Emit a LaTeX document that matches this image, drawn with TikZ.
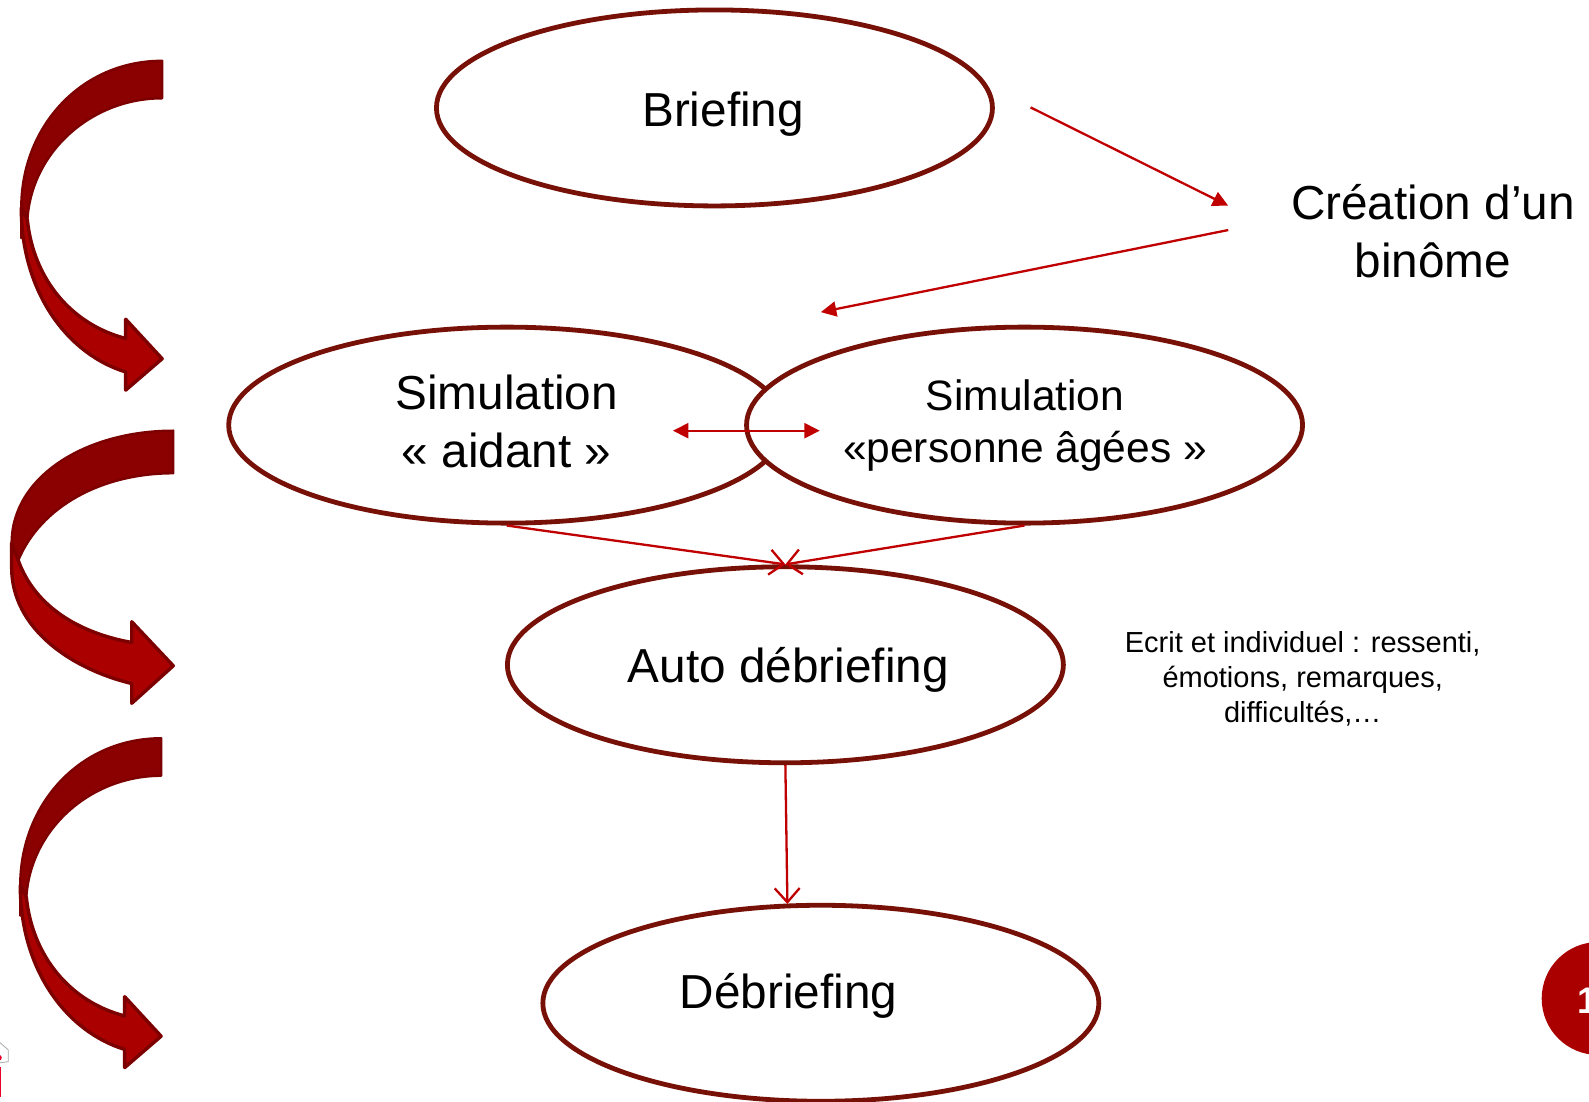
\documentclass[tikz,border=0pt]{standalone}
\usepackage{fontspec}
\setmainfont{Liberation Sans}
\usetikzlibrary{arrows.meta,shapes.geometric}
\definecolor{ringc}{HTML}{771108}
\definecolor{linkc}{HTML}{C00000}
\definecolor{banddark}{HTML}{8B0000}
\definecolor{bandedge}{HTML}{7D0000}
\definecolor{bandfill}{HTML}{AA0000}
\definecolor{greyedge}{HTML}{A8A8A8}
\definecolor{logored}{HTML}{E8002A}
\tikzset{
  stage/.style={ellipse,draw=ringc,line width=4.8pt,fill=white,minimum width=556pt,minimum height=196pt,inner sep=0pt},
  stagetext/.style={align=center,inner sep=0pt,font=\fontsize{47.7}{58}\selectfont},
  link/.style={draw=linkc,line width=2.3pt},
  solidhead/.style={-{Triangle[length=15.5pt,width=15pt]}},
  bothheads/.style={{Triangle[length=15.5pt,width=15pt]}-{Triangle[length=15.5pt,width=15pt]}},
  openhead/.style={-{Straight Barb[length=14pt,width=25pt,line width=2.3pt]}},
  bandtop/.style={fill=banddark,draw=bandedge,line width=2.4pt,line join=round},
  bandlow/.style={fill=bandfill,draw=bandedge,line width=3.4pt,line join=round},
}
\newcommand{\curvearrow}{%
  \path[bandtop] (160,60) .. controls (80,60) and (21,125) .. (21,205) -- (21,235) -- (27,217)
     .. controls (31,150) and (90,97) .. (160,97) -- cycle;
  \path[bandlow] (21,205) .. controls (21,290) and (68,350) .. (124,367) -- (124,385) -- (160,354) -- (124,315) -- (124,334)
     .. controls (70,320) and (33,275) .. (27,217) -- cycle;
}
\begin{document}
\begin{tikzpicture}[x=1.0134pt,y=-1.0134pt]
\useasboundingbox (0,0) rectangle (1568,1087.4);
\fill[white] (0,0) rectangle (1568,1087.4);
% side arrows
\curvearrow
\path[bandtop] (171,425) .. controls (85,425) and (11.5,470) .. (11.5,536) -- (11.5,565) -- (18,553)
   .. controls (40,500) and (100,467) .. (171,467) -- cycle;
\path[bandlow] (11.5,536) -- (11.5,560) .. controls (11.5,620) and (70,660) .. (130,674.5) -- (130,694) -- (171,657) -- (130,613.5) -- (130,634)
   .. controls (80,625) and (35,600) .. (18,553) -- cycle;
\begin{scope}[shift={(-1,668.5)}]
\curvearrow
\end{scope}
% stages
\node[stage] (brief) at (705,106.5) {};
\node[stage] (sima) at (500,419.5) {};
\node[stage] (simp) at (1011,419.5) {};
\node[stage] (auto) at (775,656) {};
\node[stage] (deb) at (810,990) {};
% labels
\node[stagetext] (brieftext) at (713.5,113) {Briefing};
\node[stagetext] (simatext) at (500,416) {Simulation\\« aidant »};
\node[stagetext,font=\fontsize{42.5}{52}\selectfont] (simptext) at (1011.5,420) {Simulation\\«personne âgées »};
\node[stagetext] (autotext) at (778,661.5) {Auto débriefing};
\node[stagetext] (debtext) at (778,983) {Débriefing};
\node[stagetext] (binome) at (1414,228) {Création d’un\\binôme};
\node[align=center,inner sep=0pt,font=\fontsize{29}{35}\selectfont] (note) at (1285.5,670) {Ecrit et individuel : ressenti,\\émotions, remarques,\\difficultés,…};
% connector ends
\coordinate (briefout) at (1017,106);
\coordinate (binin) at (1212,203);
\coordinate (binout) at (1212,227);
\coordinate (simin) at (810,308);
\coordinate (swapl) at (664,425);
\coordinate (swapr) at (809,425);
\coordinate (debin) at (777,892);
% connectors
\draw[link,solidhead] (briefout) -- (binin);
\draw[link,solidhead] (binout) -- (simin);
\draw[link,bothheads] (swapl) -- (swapr);
\draw[link,openhead] (sima.south) -- (auto.north);
\draw[link,openhead] (simp.south) -- (auto.north);
\draw[link,openhead] (auto.south) -- (debin);
% page number badge and logo fragment
\begin{scope}
\clip (0,0) rectangle (1568,1087.4);
\fill[bandfill] (1577,985.3) circle (55.7);
\node[text=white,font=\bfseries\fontsize{37}{37}\selectfont,anchor=west,inner sep=0pt] (pageno) at (1556,988) {1};
\draw[greyedge,line width=0.8pt] (-1,1028) -- (8.2,1036) -- (8.2,1047.6) -- (-1,1049);
\fill[logored] (-1,1043.7) circle (2.8);
\fill[logored] (-1,1052.6) rectangle (1.3,1082);
\end{scope}
\end{tikzpicture}
\end{document}
